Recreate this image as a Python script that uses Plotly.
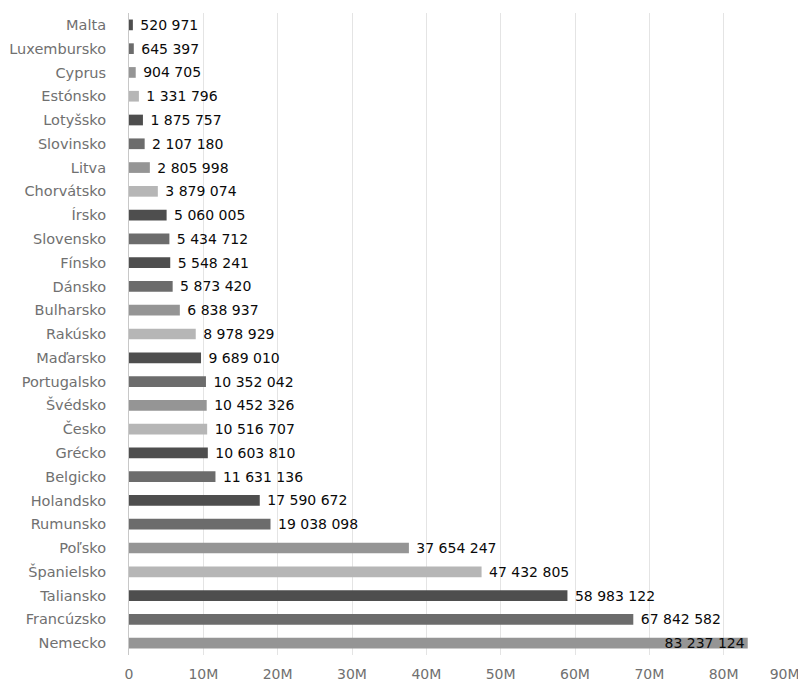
import plotly.graph_objects as go

countries = ["Malta", "Luxembursko", "Cyprus", "Estónsko", "Lotyšsko", "Slovinsko", "Litva",
             "Chorvátsko", "Írsko", "Slovensko", "Fínsko", "Dánsko", "Bulharsko", "Rakúsko",
             "Maďarsko", "Portugalsko", "Švédsko", "Česko", "Grécko", "Belgicko", "Holandsko",
             "Rumunsko", "Poľsko", "Španielsko", "Taliansko", "Francúzsko", "Nemecko"]
population = [520971, 645397, 904705, 1331796, 1875757, 2107180, 2805998,
              3879074, 5060005, 5434712, 5548241, 5873420, 6838937, 8978929,
              9689010, 10352042, 10452326, 10516707, 10603810, 11631136, 17590672,
              19038098, 37654247, 47432805, 58983122, 67842582, 83237124]
tick_values = [0, 10e6, 20e6, 30e6, 40e6, 50e6, 60e6, 70e6, 80e6, 90e6]
tick_labels = ["0", "10M", "20M", "30M", "40M", "50M", "60M", "70M", "80M", "90M"]

D, MD, M, L = "#4e4e4e", "#6c6c6c", "#959595", "#b6b6b6"
shade_order = [D, MD, M, L, D, MD, M, L, D, MD, D, MD, M, L, D, MD, M, L, D, MD, D, MD, M, L, D, MD, M]

labels = [f"{v:,}".replace(",", " ") for v in population]
text_pos = ["outside"] * (len(population) - 1) + ["inside"]
# last label is kept inside the page by an invisible trailing pad
tick_text = tick_labels[:-1] + [tick_labels[-1] + "<span style='color:rgba(0,0,0,0)'>000</span>"]

fig = go.Figure(go.Bar(
    x=population, y=countries, orientation="h",
    marker=dict(color=shade_order, line=dict(width=0)),
    text=["\u00a0" + t for t in labels[:-1]] + [labels[-1]],
    textposition=text_pos,
    insidetextanchor="end",
    constraintext="none",
    cliponaxis=False,
    textfont=dict(family="DejaVu Sans", size=14, color="#0a0a0a"),
    hoverinfo="skip",
))

fig.update_layout(
    width=798, height=681,
    margin=dict(l=129, r=0, t=13, b=26),
    paper_bgcolor="white", plot_bgcolor="white",
    bargap=0.55,
    showlegend=False,
    font=dict(family="DejaVu Sans", size=14, color="#6e6e6e"),
)
fig.update_xaxes(
    range=[0, 90e6], tickvals=tick_values, ticktext=tick_text,
    showgrid=True, gridcolor="#e4e4e4", gridwidth=1,
    zeroline=False, showline=False, ticks="", ticklabelstandoff=9,
    ticklabeloverflow="allow", automargin=False,
    tickfont=dict(family="DejaVu Sans", size=14, color="#707070"),
)
fig.update_yaxes(
    autorange="reversed", showline=True, linecolor="#c8c8c8", linewidth=1,
    showgrid=False, ticks="", ticklabelstandoff=19, automargin=False,
    tickfont=dict(family="DejaVu Sans", size=14.5, color="#707070"),
)

fig.write_html(
    "out.html",
    config={"displayModeBar": False},
    post_script="document.body.style.margin='0';document.body.style.overflow='hidden';",
)
